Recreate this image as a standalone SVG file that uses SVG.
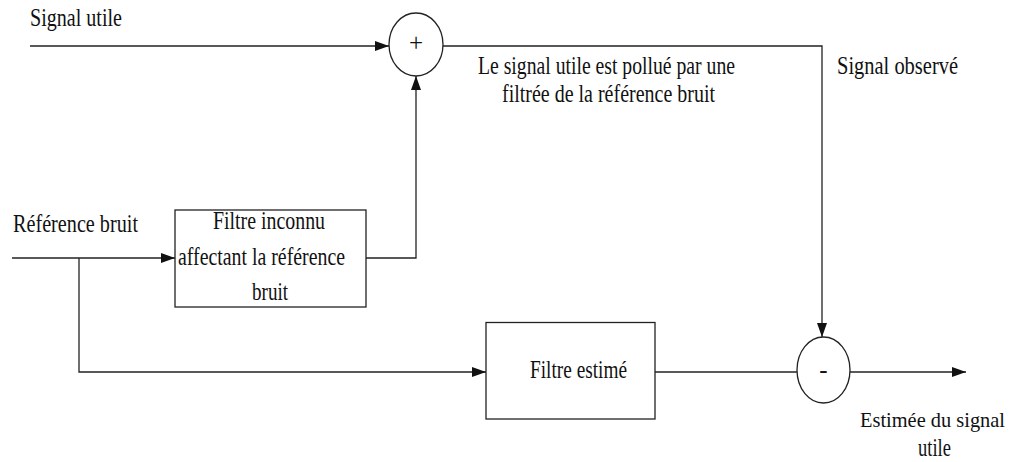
<svg xmlns="http://www.w3.org/2000/svg" width="1014" height="462" viewBox="0 0 1014 462">
<style>
text{font-family:"Liberation Serif","Times New Roman","DejaVu Serif",serif;font-size:25px;fill:#111}
.c{fill:none;stroke:#222;stroke-width:1.3}
.n{fill:#fff;stroke:#222;stroke-width:1.3}
</style>
<defs>
<marker id="ah" viewBox="0 0 14 10" refX="14" refY="5" markerWidth="14" markerHeight="10" markerUnits="userSpaceOnUse" orient="auto">
<path d="M0,0 L14,5 L0,10 Z" fill="#111"/>
</marker>
</defs>
<rect width="1014" height="462" fill="#fff"/>
<g id="connectors">
<path class="c" d="M30,46 H389" marker-end="url(#ah)"/>
<path class="c" d="M443,46 H822 V337" marker-end="url(#ah)"/>
<path class="c" d="M12,258 H175" marker-end="url(#ah)"/>
<path class="c" d="M366,258 H416 V76" marker-end="url(#ah)"/>
<path class="c" d="M79,258 V372 H486" marker-end="url(#ah)"/>
<path class="c" d="M655,372 H797"/>
<path class="c" d="M850,372 H966" marker-end="url(#ah)"/>
</g>
<g id="sum">
<ellipse class="n" cx="416" cy="44.5" rx="27" ry="31.5"/>
<text x="416" y="51" text-anchor="middle">+</text>
</g>
<g id="diff">
<ellipse class="n" cx="823.5" cy="370" rx="26.5" ry="33"/>
<text x="823.5" y="378" text-anchor="middle">-</text>
</g>
<g id="filtre-inconnu">
<rect class="n" x="175" y="210" width="191" height="97"/>
<text x="213" y="229" textLength="112" lengthAdjust="spacingAndGlyphs">Filtre inconnu</text>
<text x="178" y="265" textLength="167" lengthAdjust="spacingAndGlyphs">affectant la référence</text>
<text x="252" y="300" textLength="36" lengthAdjust="spacingAndGlyphs">bruit</text>
</g>
<g id="filtre-estime">
<rect class="n" x="486" y="322.5" width="169" height="96.5"/>
<text x="530" y="378" textLength="97" lengthAdjust="spacingAndGlyphs">Filtre estimé</text>
</g>
<g id="labels">
<text x="30" y="26" textLength="92" lengthAdjust="spacingAndGlyphs">Signal utile</text>
<text x="478" y="74" textLength="257" lengthAdjust="spacingAndGlyphs">Le signal utile est pollué par une</text>
<text x="502" y="102" textLength="213" lengthAdjust="spacingAndGlyphs">filtrée de la référence bruit</text>
<text x="837" y="74" textLength="121" lengthAdjust="spacingAndGlyphs">Signal observé</text>
<text x="13" y="232" textLength="125" lengthAdjust="spacingAndGlyphs">Référence bruit</text>
<text x="1005" y="427" text-anchor="end" style="font-size:21px" textLength="145" lengthAdjust="spacingAndGlyphs">Estimée du signal</text>
<text x="918" y="456" textLength="33" lengthAdjust="spacingAndGlyphs">utile</text>
</g>
</svg>
